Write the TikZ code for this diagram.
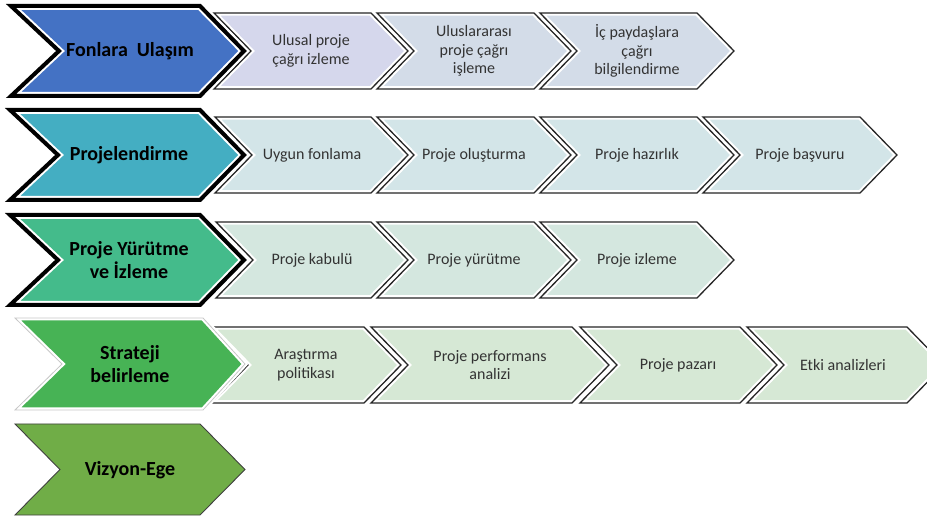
\documentclass[tikz,border=0pt]{standalone}
\usepackage{fontspec}
\setmainfont{Carlito}
\definecolor{bigA}{HTML}{4472C4}
\definecolor{bigB}{HTML}{44AEC2}
\definecolor{bigC}{HTML}{44BB8B}
\definecolor{bigD}{HTML}{47B355}
\definecolor{bigE}{HTML}{70AD47}
\definecolor{smA}{HTML}{D5D7EC}
\definecolor{smAb}{HTML}{D3DCE8}
\definecolor{smB}{HTML}{D3E5E8}
\definecolor{smC}{HTML}{D4E7DF}
\definecolor{smD}{HTML}{D6E8D5}
% #1 x0, #2 notch depth, #3 flat end, #4 tip depth, #5 ytop, #6 ybot, #7 style
\newcommand\chevshape[7]{%
  \path[#7] (#1,#5) -- (#3,#5) -- ({#3+#4},{(#5+#6)/2}) -- (#3,#6) -- (#1,#6) -- ({#1+#2},{(#5+#6)/2}) -- cycle;}
% #1 left, #2 flat end, #3 ytop, #4 ybot, #5 fill
\newcommand\smallchev[5]{%
  \chevshape{#1}{37}{#2}{37}{#3}{#4}{fill=#5, draw=white, line width=5.5pt}
  \chevshape{#1}{37}{#2}{37}{#3}{#4}{draw=black!85, line width=1.3pt}}
\tikzset{
  smalltxt/.style={inner sep=0pt, align=center, text=black!80, font=\fontsize{16}{18.5}\selectfont},
  bigtxt/.style={inner sep=0pt, align=center, text=black, font=\fontsize{20}{23}\selectfont\bfseries}
}
\begin{document}
\begin{tikzpicture}[x=1pt,y=-1pt]
\useasboundingbox (0,0) rectangle (927,521);
\clip (0,0) rectangle (927,521);
% ---------- Row 1 ----------
\smallchev{214}{371}{13}{89}{smA}
\smallchev{377}{534}{13}{89}{smAb}
\smallchev{540}{697}{13}{89}{smAb}
\chevshape{11}{48}{200}{44}{6}{96}{fill=bigA, draw=white, line width=8pt}
\chevshape{11}{48}{200}{44}{6}{96}{draw=black, line width=4pt}
\node[bigtxt] (b1) at (130,51) {Fonlara\ \ Ulaşım};
\node[smalltxt] (t11) at (311,51) {Ulusal proje\\çağrı izleme};
\node[smalltxt] (t12) at (474,51) {Uluslararası\\proje çağrı\\işleme};
\node[smalltxt] (t13) at (637,51) {İç paydaşlara\\çağrı\\bilgilendirme};
% ---------- Row 2 ----------
\smallchev{215}{371}{117}{193}{smB}
\smallchev{377}{534}{117}{193}{smB}
\smallchev{540}{697}{117}{193}{smB}
\smallchev{703}{860}{117}{193}{smB}
\chevshape{10}{48}{200}{44}{110}{200}{fill=bigB, draw=white, line width=8pt}
\chevshape{10}{48}{200}{44}{110}{200}{draw=black, line width=4pt}
\node[bigtxt] (b2) at (129,155) {Projelendirme};
\node[smalltxt] (t21) at (312,155) {Uygun fonlama};
\node[smalltxt] (t22) at (474,155) {Proje oluşturma};
\node[smalltxt] (t23) at (637,155) {Proje hazırlık};
\node[smalltxt] (t24) at (800,155) {Proje başvuru};
% ---------- Row 3 ----------
\smallchev{216}{371}{222}{298}{smC}
\smallchev{377}{534}{222}{298}{smC}
\smallchev{540}{697}{222}{298}{smC}
\chevshape{10}{48}{200}{44}{215}{305}{fill=bigC, draw=white, line width=8pt}
\chevshape{10}{48}{200}{44}{215}{305}{draw=black, line width=4pt}
\node[bigtxt] (b3) at (129,260) {Proje Yürütme\\ve İzleme};
\node[smalltxt] (t31) at (312,260) {Proje kabulü};
\node[smalltxt] (t32) at (474,260) {Proje yürütme};
\node[smalltxt] (t33) at (637,260) {Proje izleme};
% ---------- Row 4 ----------
\smallchev{211}{364}{327}{403}{smD}
\smallchev{371}{572}{327}{403}{smD}
\smallchev{580}{740}{327}{403}{smD}
\smallchev{747}{907}{327}{403}{smD}
\chevshape{15}{47}{203}{42}{318}{410}{fill=bigD, draw=white, line width=5pt}
\chevshape{15}{47}{203}{42}{318}{410}{draw=black!22, line width=0.8pt}
\node[bigtxt] (b4) at (130,364) {Strateji\\belirleme};
\node[smalltxt] (t41) at (306,365) {Araştırma\\politikası};
\node[smalltxt] (t42) at (490,365) {Proje performans\\analizi};
\node[smalltxt] (t43) at (678,365) {Proje pazarı};
\node[smalltxt] (t44) at (843,365) {Etki analizleri};
% ---------- Row 5 ----------
\chevshape{15}{45}{200}{45}{424}{515}{fill=bigE, draw=black!75, line width=0.9pt}
\node[bigtxt] (b5) at (130,470) {Vizyon-Ege};
\end{tikzpicture}
\end{document}
